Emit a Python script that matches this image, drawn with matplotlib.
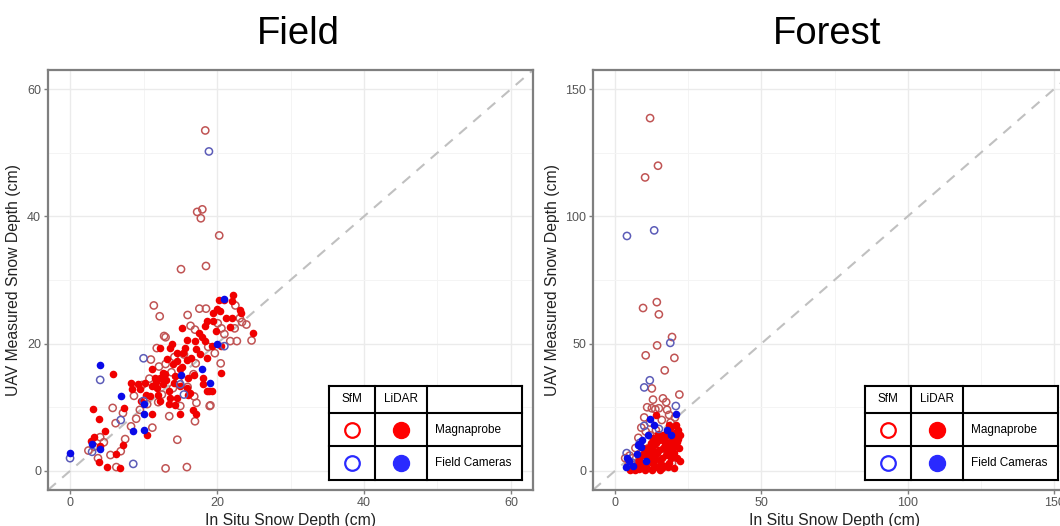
import matplotlib
matplotlib.use("Agg")
import matplotlib.pyplot as plt
from matplotlib.ticker import MultipleLocator

plt.rcParams['font.family'] = ['Liberation Sans', 'DejaVu Sans']

# --- data (cm) ---
# Field panel
field_sfm_mag_x = [18.4, 18.0, 17.3, 17.8, 20.3, 15.1, 18.5, 11.4, 12.2, 16.0, 17.6, 18.5,
                   17.0, 13.0, 11.8, 11.0, 12.1, 13.0, 20.1, 20.6, 23.1, 23.4, 22.4, 24.7,
                   21.8, 22.7, 12.8, 20.5, 17.1, 19.7, 16.8, 15.0, 13.5, 17.0, 19.0, 14.6,
                   13.0, 15.9, 11.2, 8.3, 7.2, 5.8, 8.7, 9.5, 4.1, 4.6, 3.3, 6.9, 6.3, 16.9,
                   17.2, 14.0, 16.0, 12.5, 10.8, 13.8, 15.5, 18.8, 21.0, 24.0, 22.5, 9.8,
                   10.5, 6.2, 7.5, 5.5, 2.5, 3.8, 14.8, 12.0, 9.0, 19.1, 16.4, 14.2]
field_sfm_mag_y = [53.5, 41.1, 40.7, 39.7, 37.0, 31.7, 32.2, 26.0, 24.3, 24.5, 25.5, 25.5,
                   22.2, 21.0, 19.3, 17.5, 16.4, 16.8, 23.2, 22.4, 24.0, 23.4, 22.4, 20.5,
                   20.4, 20.4, 21.2, 16.9, 16.9, 18.5, 15.2, 10.2, 8.6, 7.8, 10.2, 4.9,
                   0.4, 0.6, 6.8, 7.0, 9.1, 9.9, 11.8, 9.6, 5.3, 4.5, 3.8, 3.1, 0.6, 11.7,
                   10.7, 13.0, 13.2, 12.0, 14.5, 15.5, 18.3, 19.5, 21.5, 23.0, 26.0, 13.5,
                   10.5, 7.5, 5.0, 2.5, 3.2, 2.0, 14.0, 10.8, 8.2, 10.3, 22.8, 17.9]

field_lidar_mag_x = [22.2, 22.1, 20.3, 20.0, 20.4, 19.5, 23.1, 23.3, 22.1, 18.6, 18.3, 19.5,
                     15.2, 15.9, 17.0, 18.4, 19.3, 20.6, 12.3, 13.6, 14.6, 15.6, 17.2, 17.7,
                     18.6, 14.6, 15.9, 15.2, 11.1, 12.2, 11.6, 16.1, 16.8, 14.3, 14.1, 15.0,
                     12.7, 13.4, 11.8, 11.1, 12.0, 10.9, 13.6, 14.5, 14.3, 13.5, 12.2, 15.9,
                     18.1, 19.3, 18.6, 20.6, 8.3, 9.3, 9.5, 8.4, 10.3, 5.9, 3.1, 4.0, 4.8,
                     3.3, 2.9, 4.1, 4.0, 5.0, 6.8, 6.3, 7.2, 7.4, 11.2, 10.5, 16.7, 17.2,
                     18.9, 24.9, 21.2, 16.5, 13.2, 14.9, 17.5, 19.8, 12.9, 15.4, 16.3, 13.9,
                     11.7, 10.2, 12.6, 14.0, 17.9, 21.7, 9.6, 13.1, 16.0, 18.1, 15.0, 20.9]
field_lidar_mag_y = [27.6, 26.7, 26.8, 25.5, 25.1, 24.8, 25.3, 24.8, 24.1, 23.6, 22.7, 23.5,
                     22.4, 20.6, 20.4, 20.4, 19.6, 19.6, 19.3, 19.3, 18.5, 19.3, 19.1, 18.3,
                     17.7, 17.2, 17.5, 16.3, 16.0, 14.6, 14.6, 14.6, 15.1, 14.9, 13.8, 13.3,
                     13.6, 12.5, 13.0, 13.3, 12.0, 11.7, 11.5, 11.5, 10.4, 10.5, 11.0, 13.0,
                     13.6, 12.5, 12.5, 15.4, 13.8, 13.6, 12.8, 12.9, 11.9, 15.2, 9.7, 8.1,
                     6.3, 5.3, 4.7, 3.9, 1.4, 0.6, 0.5, 2.6, 4.1, 9.9, 8.9, 5.6, 9.5, 8.9,
                     12.5, 21.6, 24.0, 17.8, 17.6, 16.0, 21.7, 22.0, 15.2, 18.6, 12.2, 20.0,
                     14.0, 13.8, 15.4, 16.8, 21.0, 22.6, 11.0, 14.3, 12.0, 14.6, 9.0, 26.9]

field_sfm_cam_x = [0.0, 4.1, 10.0, 6.9, 8.6, 3.0, 21.0, 15.0, 18.9, 10.0, 15.5]
field_sfm_cam_y = [2.0, 14.3, 17.7, 8.0, 1.1, 3.0, 19.6, 13.6, 50.2, 11.0, 12.0]

field_lidar_cam_x = [0.0, 4.1, 6.9, 10.0, 8.6, 10.0, 3.0, 4.1, 18.0, 19.0, 20.0, 21.0, 15.1, 10.0]
field_lidar_cam_y = [2.8, 16.6, 11.8, 9.0, 6.3, 6.4, 4.2, 3.5, 16.0, 13.8, 20.0, 27.0, 15.1, 10.5]

# Forest panel
forest_sfm_mag_x = [12.0, 14.7, 10.3, 9.6, 14.3, 15.0, 19.5, 14.4, 10.5, 20.3, 17.0, 12.6,
                    22.0, 16.4, 11.0, 12.6, 15.0, 17.8, 13.8, 18.5, 16.0, 9.0, 10.5, 12.0,
                    8.0, 14.0, 19.0, 20.0, 17.0, 15.5, 3.5, 5.0, 6.5, 9.5, 11.5, 13.0, 16.0,
                    18.0, 20.0, 21.0, 7.0, 4.5, 14.0, 19.5, 12.0, 10.0, 17.5, 13.0, 20.5, 6.0]
forest_sfm_mag_y = [138.6, 119.9, 115.3, 64.0, 66.3, 61.5, 52.6, 49.3, 45.4, 44.4, 39.5, 32.4,
                    30.0, 28.5, 25.0, 24.6, 24.6, 24.0, 24.2, 22.0, 20.0, 17.0, 15.5, 14.0,
                    13.0, 16.0, 19.0, 17.0, 12.0, 10.0, 5.0, 6.0, 3.0, 7.0, 9.0, 5.5, 6.0,
                    8.0, 11.0, 9.0, 9.0, 2.0, 2.0, 3.0, 19.0, 21.0, 27.0, 28.0, 21.0, 5.0]

forest_lidar_mag_x = [14.0, 21.0, 21.5, 22.2, 20.5, 19.1, 18.2, 17.0, 16.3, 15.2, 13.1, 12.4,
                      11.2, 10.1, 9.3, 8.2, 7.1, 6.2, 5.1, 6.7, 8.3, 9.2, 10.4, 11.3, 12.1,
                      13.4, 14.2, 15.1, 16.4, 17.2, 18.3, 19.4, 20.1, 21.2, 22.0, 20.3, 19.2,
                      18.4, 17.1, 16.2, 15.3, 14.4, 13.2, 12.3, 11.1, 10.2, 9.4, 12.6, 13.3,
                      14.1, 15.4, 16.1, 17.3, 18.1, 19.3, 22.1, 18.0, 20.6, 21.6, 11.6, 13.6,
                      15.6, 10.6, 16.6, 17.6, 20.2, 12.8, 7.6, 9.7, 14.6, 19.6, 21.1, 18.6]
forest_lidar_mag_y = [21.8, 18.0, 16.2, 14.1, 15.0, 17.2, 15.1, 13.2, 14.0, 12.1, 13.0, 11.0,
                      9.1, 8.0, 6.2, 4.1, 2.0, 1.2, 0.5, 0.2, 0.6, 1.5, 2.4, 4.0, 5.1,
                      6.0, 7.2, 8.1, 9.0, 10.2, 11.1, 12.0, 13.1, 11.2, 9.0, 7.1, 5.0,
                      3.1, 2.0, 1.1, 0.5, 1.6, 2.5, 3.6, 1.0, 0.4, 3.0, 8.2, 10.1,
                      11.0, 4.1, 5.2, 6.1, 7.3, 9.2, 4.0, 1.6, 9.6, 12.4, 6.6, 4.5,
                      2.6, 6.0, 11.6, 8.5, 1.0, 0.3, 3.1, 9.0, 14.4, 14.6, 5.1, 18.0]

forest_sfm_cam_x = [4.1, 13.4, 18.9, 11.9, 10.0, 20.8, 10.0, 5.5, 8.5, 15.0, 4.0]
forest_sfm_cam_y = [92.3, 94.5, 50.3, 35.6, 32.8, 25.5, 17.7, 3.5, 11.0, 16.5, 7.0]

forest_lidar_cam_x = [20.8, 12.0, 13.4, 17.8, 19.2, 11.3, 7.9, 4.8, 7.5, 9.3, 8.2, 4.1, 3.8,
                      6.0, 9.0, 10.5]
forest_lidar_cam_y = [22.3, 20.3, 18.0, 16.0, 14.0, 14.0, 10.2, 3.9, 6.6, 12.0, 10.5, 5.0, 1.5,
                      2.0, 9.5, 4.0]

panels = [
    dict(title="Field", lim=(-3, 63), major=20, minor=10,
         sfm_mag=(field_sfm_mag_x, field_sfm_mag_y), lidar_mag=(field_lidar_mag_x, field_lidar_mag_y),
         sfm_cam=(field_sfm_cam_x, field_sfm_cam_y), lidar_cam=(field_lidar_cam_x, field_lidar_cam_y)),
    dict(title="Forest", lim=(-7.5, 157.5), major=50, minor=25,
         sfm_mag=(forest_sfm_mag_x, forest_sfm_mag_y), lidar_mag=(forest_lidar_mag_x, forest_lidar_mag_y),
         sfm_cam=(forest_sfm_cam_x, forest_sfm_cam_y), lidar_cam=(forest_lidar_cam_x, forest_lidar_cam_y)),
]

W, H = 1060, 526
fig = plt.figure(figsize=(W / 100, H / 100), dpi=100)
fig.patch.set_facecolor('white')

# axes boxes in pixels: left, top, right, bottom (the right panel runs past the edge, as in the original)
boxes = [(48, 70, 533, 490), (593, 70, 1076, 490)]
title_x = [298, 827]

COL_SFM_RED = '#c05454'
COL_SFM_BLUE = '#5c5cb8'
COL_RED = '#f00000'
COL_BLUE = '#0a0ae8'
GREY = '#7f7f7f'

for p, (l, t, r, b), tx in zip(panels, boxes, title_x):
    ax = fig.add_axes([l / W, (H - b) / H, (r - l) / W, (b - t) / H])
    ax.set_xlim(*p['lim'])
    ax.set_ylim(*p['lim'])
    ax.xaxis.set_major_locator(MultipleLocator(p['major']))
    ax.yaxis.set_major_locator(MultipleLocator(p['major']))
    ax.xaxis.set_minor_locator(MultipleLocator(p['minor']))
    ax.yaxis.set_minor_locator(MultipleLocator(p['minor']))
    ax.grid(which='major', color='#ebebeb', linewidth=1.0, zorder=0)
    ax.grid(which='minor', color='#f4f4f4', linewidth=0.7, zorder=0)
    ax.set_axisbelow(True)
    for s in ax.spines.values():
        s.set_color(GREY)
        s.set_linewidth(1.6)
    ax.tick_params(which='major', length=3, width=1, color=GREY, labelcolor='#555555',
                   labelsize=9, pad=2)
    ax.tick_params(which='minor', length=0)

    lo, hi = p['lim']
    ax.plot([lo, hi], [lo, hi], linestyle=(0, (5, 4)), color='#c0c0c0', linewidth=1.5, zorder=1)

    ax.scatter(*p['sfm_mag'], s=27, facecolors='none', edgecolors=COL_SFM_RED, linewidths=1.1, zorder=2)
    ax.scatter(*p['lidar_mag'], s=30, color=COL_RED, linewidths=0, zorder=3)
    ax.scatter(*p['sfm_cam'], s=27, facecolors='none', edgecolors=COL_SFM_BLUE, linewidths=1.1, zorder=4)
    ax.scatter(*p['lidar_cam'], s=30, color=COL_BLUE, linewidths=0, zorder=5)

    ax.set_ylabel('UAV Measured Snow Depth (cm)', fontsize=11.3, color='#222222', labelpad=4)
    ax.set_xlabel('In Situ Snow Depth (cm)', fontsize=11.3, color='#222222', labelpad=3)
    fig.text(tx / W, 1 - 34 / H, p['title'], ha='center', va='center', fontsize=27.5, color='black')

# --- legend tables drawn in pixel space on an overlay ---
ov = fig.add_axes([0, 0, 1, 1], zorder=10)
ov.set_xlim(0, W)
ov.set_ylim(H, 0)
ov.axis('off')
ov.patch.set_alpha(0)

for x0 in (329, 865):
    cols = [x0, x0 + 46, x0 + 98, x0 + 193]
    rows = [386, 413, 446, 480]
    ov.fill_between([cols[0], cols[-1]], rows[0], rows[-1], color='white', zorder=1)
    for cx in cols:
        ov.plot([cx, cx], [rows[0], rows[-1]], color='black', linewidth=1.5, zorder=2,
                solid_capstyle='projecting')
    for ry in rows:
        ov.plot([cols[0], cols[-1]], [ry, ry], color='black', linewidth=1.5, zorder=2,
                solid_capstyle='projecting')
    c1 = (cols[0] + cols[1]) / 2
    c2 = (cols[1] + cols[2]) / 2
    r0 = (rows[0] + rows[1]) / 2
    ov.text(c1, r0, 'SfM', ha='center', va='center', fontsize=8.5)
    ov.text(c2, r0, 'LiDAR', ha='center', va='center', fontsize=8.5)
    for (ra, rb), col, lab in [((rows[1], rows[2]), '#ff0000', 'Magnaprobe'),
                               ((rows[2], rows[3]), '#2a2aff', 'Field Cameras')]:
        ry = (ra + rb) / 2
        ov.plot(c1, ry, 'o', markersize=10.5, markerfacecolor='none', markeredgecolor=col,
                markeredgewidth=1.6, zorder=3)
        ov.plot(c2, ry, 'o', markersize=11.5, color=col, zorder=3)
        ov.text(cols[2] + 8, ry, lab, ha='left', va='center', fontsize=8.5)

fig.savefig('out.png', dpi=100)
